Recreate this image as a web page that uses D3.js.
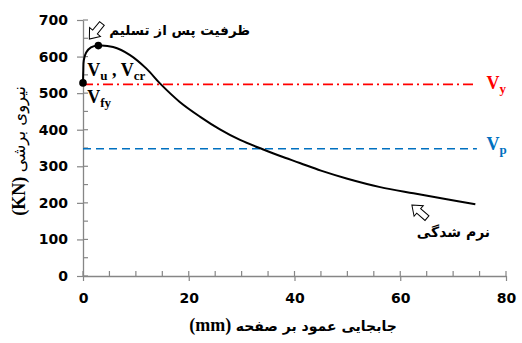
<!DOCTYPE html>
<html><head><meta charset="utf-8">
<script src="https://cdn.jsdelivr.net/npm/d3@7/dist/d3.min.js"></script>
<style>body{margin:0;background:#fff}svg{display:block}</style>
</head><body>
<svg id="c" width="522" height="343"></svg>
<script>
const disp  = [0, 0.05, 0.15, 0.6, 1.5, 2.9, 5.7, 8.9, 12.0, 14.6, 18.3, 22.1, 25.9, 29.7, 34.1, 37.3, 41.0, 45.0, 50.0, 56.2, 62.5, 68.8, 74.2];
const force = [528, 560, 590, 611, 625, 630, 626, 604, 567, 526, 476, 436, 401, 372, 346, 328, 309, 288, 266, 243, 226, 210, 196];
const markers = [[0, 528], [2.9, 630]];
const Vy = 524, Vp = 348;
const xTicks = [0, 20, 40, 60, 80];
const yTicks = [0, 100, 200, 300, 400, 500, 600, 700];

const svg = d3.select('#c');
const x = d3.scaleLinear().domain([0, 80]).range([83, 506]);
const y = d3.scaleLinear().domain([0, 700]).range([276, 20]);
const axisCol = '#868686';
const sans = "'DejaVu Sans', sans-serif";
const serif = "'Liberation Serif', 'Times New Roman', serif";

// minor ticks (inside)
const g = svg.append('g');
d3.range(0, 81, 5).forEach(v => {
  g.append('line').attr('x1', x(v)).attr('x2', x(v)).attr('y1', y(0)).attr('y2', y(0) - 5)
    .attr('stroke', axisCol).attr('stroke-width', 1.2);
});
d3.range(0, 701, 50).forEach(v => {
  g.append('line').attr('x1', x(0)).attr('x2', x(0) + 5).attr('y1', y(v)).attr('y2', y(v))
    .attr('stroke', axisCol).attr('stroke-width', 1.2);
});

// axes
const xAxis = svg.append('g').attr('transform', `translate(0,${y(0)})`)
  .call(d3.axisBottom(x).tickValues(xTicks).tickSizeInner(5).tickSizeOuter(0).tickPadding(12));
const yAxis = svg.append('g').attr('transform', `translate(${x(0)},0)`)
  .call(d3.axisLeft(y).tickValues(yTicks).tickSizeInner(6).tickSizeOuter(0).tickPadding(9));
[xAxis, yAxis].forEach(a => {
  a.select('.domain').attr('stroke', axisCol).attr('stroke-width', 1.3);
  a.selectAll('.tick line').attr('stroke', axisCol).attr('stroke-width', 1.2);
  a.selectAll('.tick text').attr('font-family', sans).attr('font-weight', 'bold')
    .attr('font-size', 14).attr('fill', '#000');
});

// reference lines
svg.append('line').attr('x1', x(0)).attr('x2', x(74.5)).attr('y1', y(Vy)).attr('y2', y(Vy))
  .attr('stroke', '#ff0000').attr('stroke-width', 1.6).attr('stroke-dasharray', '10,4,2,4');
svg.append('line').attr('x1', x(0)).attr('x2', x(74.5)).attr('y1', y(Vp)).attr('y2', y(Vp))
  .attr('stroke', '#0070c0').attr('stroke-width', 1.6).attr('stroke-dasharray', '8,5');

// curve
const pts = disp.map((d, i) => [d, force[i]]);
svg.append('path').datum(pts)
  .attr('d', d3.line().x(d => x(d[0])).y(d => y(d[1])).curve(d3.curveCatmullRom.alpha(0.5)))
  .attr('fill', 'none').attr('stroke', '#000').attr('stroke-width', 2);
svg.selectAll('circle.m').data(markers).enter().append('circle')
  .attr('cx', d => x(d[0])).attr('cy', d => y(d[1])).attr('r', 3.8).attr('fill', '#000');

// arrows (hollow block arrows)
function arrow(tx, ty, angleDeg) {
  const p = [[0, 0], [9, -7], [9, -3], [20, -3], [20, 3], [9, 3], [9, 7]];
  svg.append('polygon').attr('points', p.map(q => q.join(',')).join(' '))
    .attr('transform', `translate(${tx},${ty}) rotate(${angleDeg})`)
    .attr('fill', '#fff').attr('stroke', '#000').attr('stroke-width', 1);
}
arrow(x(1.2), y(648), -51);
arrow(x(62.2), y(194), 41);

// texts
function sub(px, py, main, s, col) {
  const tx = svg.append('text').attr('x', px).attr('y', py).attr('font-family', serif)
    .attr('font-weight', 'bold').attr('fill', col);
  tx.append('tspan').attr('font-size', 18).text(main);
  tx.append('tspan').attr('font-size', 13).attr('dy', 4).text(s);
  return tx;
}
const t1 = svg.append('text').attr('x', x(0.8)).attr('y', y(546)).attr('font-family', serif)
  .attr('font-weight', 'bold').attr('fill', '#000');
t1.append('tspan').attr('font-size', 18).text('V');
t1.append('tspan').attr('font-size', 13).attr('dy', 4).text('u');
t1.append('tspan').attr('font-size', 18).attr('dy', -4).text(' , V');
t1.append('tspan').attr('font-size', 13).attr('dy', 4).text('cr');
sub(x(0.8), y(474), 'V', 'fy', '#000');
sub(x(76.3), y(511), 'V', 'y', '#ff0000');
sub(x(76.3), y(344), 'V', 'p', '#0070c0');

svg.append('text').attr('x', x(31.6)).attr('y', y(660)).attr('text-anchor', 'end')
  .attr('font-family', sans).attr('font-weight', 'bold').attr('font-size', 13.5)
  .text('ظرفیت پس از تسلیم');
svg.append('text').attr('x', x(77)).attr('y', y(106)).attr('text-anchor', 'end')
  .attr('font-family', sans).attr('font-weight', 'bold').attr('font-size', 14).text('نرم شدگی');

// x title
const xt = svg.append('text').attr('x', 293).attr('y', 331).attr('text-anchor', 'middle');
xt.append('tspan').attr('font-family', serif).attr('font-weight', 'bold').attr('font-size', 18).text('(mm) ');
xt.append('tspan').attr('font-family', sans).attr('font-weight', 'bold').attr('font-size', 14).text('\u202Bجابجایی عمود بر صفحه\u202C');

// y title
const yt = svg.append('text').attr('transform', 'translate(25,151) rotate(-90)').attr('text-anchor', 'middle');
yt.append('tspan').attr('font-family', serif).attr('font-weight', 'bold').attr('font-size', 18).text('(KN) ');
yt.append('tspan').attr('font-family', sans).attr('font-size', 16.5).text('\u202Bنیروی برشی\u202C');
</script>
</body></html>
